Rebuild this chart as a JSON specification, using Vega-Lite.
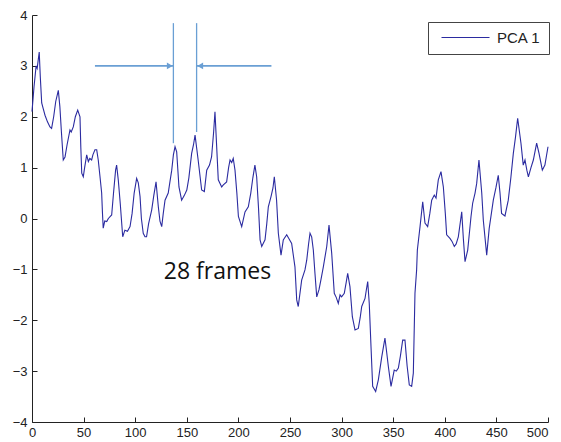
{
  "$schema": "https://vega.github.io/schema/vega-lite/v6.json",
  "width": 516,
  "height": 407,
  "autosize": {"type": "none"},
  "padding": {"left": 32, "top": 15, "right": 13, "bottom": 20},
  "background": "white",
  "config": {
    "view": {"stroke": null},
    "axis": {
      "grid": false,
      "domainColor": "#222",
      "tickColor": "#222",
      "tickSize": -5,
      "labelFont": "Liberation Sans",
      "labelFontSize": 13,
      "labelColor": "#222",
      "title": null
    }
  },
  "layer": [
    {
      "data": {"values": [
        {"frame": 0, "pca": 2.1}, {"frame": 2, "pca": 2.6}, {"frame": 4, "pca": 3.0}, {"frame": 5, "pca": 2.95},
        {"frame": 7, "pca": 3.27}, {"frame": 8, "pca": 2.8}, {"frame": 9.4, "pca": 2.27}, {"frame": 11, "pca": 2.15},
        {"frame": 12.6, "pca": 2.03}, {"frame": 15, "pca": 1.9}, {"frame": 17.4, "pca": 1.8}, {"frame": 19, "pca": 1.77},
        {"frame": 21, "pca": 2.0}, {"frame": 23, "pca": 2.3}, {"frame": 25.5, "pca": 2.52}, {"frame": 27, "pca": 2.2},
        {"frame": 28.5, "pca": 1.7}, {"frame": 30.3, "pca": 1.15}, {"frame": 32, "pca": 1.21}, {"frame": 34, "pca": 1.45},
        {"frame": 36.8, "pca": 1.74}, {"frame": 38, "pca": 1.7}, {"frame": 40, "pca": 1.8}, {"frame": 42, "pca": 2.0},
        {"frame": 44.3, "pca": 2.13}, {"frame": 46.5, "pca": 2.0}, {"frame": 47.3, "pca": 1.4}, {"frame": 48.2, "pca": 0.89},
        {"frame": 49.7, "pca": 0.82}, {"frame": 51, "pca": 1.0}, {"frame": 53, "pca": 1.25}, {"frame": 54.6, "pca": 1.12},
        {"frame": 56, "pca": 1.18}, {"frame": 57.8, "pca": 1.15}, {"frame": 59, "pca": 1.25}, {"frame": 61, "pca": 1.35},
        {"frame": 62.7, "pca": 1.35}, {"frame": 64.2, "pca": 1.15}, {"frame": 66, "pca": 0.8}, {"frame": 67.5, "pca": 0.5},
        {"frame": 68.3, "pca": 0.1}, {"frame": 69, "pca": -0.19}, {"frame": 70.5, "pca": -0.05}, {"frame": 72.4, "pca": -0.06},
        {"frame": 74, "pca": 0.0}, {"frame": 77.2, "pca": 0.07}, {"frame": 79, "pca": 0.5}, {"frame": 81, "pca": 0.95},
        {"frame": 82, "pca": 1.05}, {"frame": 83.6, "pca": 0.76}, {"frame": 85.5, "pca": 0.3}, {"frame": 87.9, "pca": -0.36},
        {"frame": 90, "pca": -0.23}, {"frame": 92.5, "pca": -0.25}, {"frame": 95, "pca": -0.16}, {"frame": 97, "pca": 0.1},
        {"frame": 99, "pca": 0.5}, {"frame": 101.4, "pca": 0.79}, {"frame": 103, "pca": 0.7}, {"frame": 104.7, "pca": 0.43},
        {"frame": 106, "pca": 0.0}, {"frame": 107.8, "pca": -0.29}, {"frame": 109.5, "pca": -0.36}, {"frame": 111, "pca": -0.36},
        {"frame": 113, "pca": -0.1}, {"frame": 116, "pca": 0.17}, {"frame": 118, "pca": 0.45}, {"frame": 120.2, "pca": 0.72},
        {"frame": 122.4, "pca": 0.23}, {"frame": 124, "pca": -0.05}, {"frame": 125.7, "pca": -0.16}, {"frame": 127.2, "pca": 0.1},
        {"frame": 128.9, "pca": 0.36}, {"frame": 132, "pca": 0.5}, {"frame": 133.5, "pca": 0.7}, {"frame": 135.4, "pca": 0.95},
        {"frame": 137, "pca": 1.25}, {"frame": 138.6, "pca": 1.41}, {"frame": 140.2, "pca": 1.31}, {"frame": 142.4, "pca": 0.62},
        {"frame": 145, "pca": 0.36}, {"frame": 147.5, "pca": 0.45}, {"frame": 150, "pca": 0.56}, {"frame": 152, "pca": 0.8},
        {"frame": 154.7, "pca": 1.28}, {"frame": 156.5, "pca": 1.45}, {"frame": 158, "pca": 1.64}, {"frame": 161, "pca": 1.15},
        {"frame": 164.4, "pca": 0.56}, {"frame": 167, "pca": 0.53}, {"frame": 169.3, "pca": 0.95}, {"frame": 172, "pca": 1.05},
        {"frame": 174, "pca": 1.21}, {"frame": 176, "pca": 1.7}, {"frame": 177.3, "pca": 2.1}, {"frame": 178.5, "pca": 1.6},
        {"frame": 180.5, "pca": 0.76}, {"frame": 183.8, "pca": 0.62}, {"frame": 185.4, "pca": 0.66}, {"frame": 188.6, "pca": 0.72},
        {"frame": 190.5, "pca": 1.0}, {"frame": 191.9, "pca": 1.15}, {"frame": 193.5, "pca": 1.1}, {"frame": 195, "pca": 1.18},
        {"frame": 196.7, "pca": 0.95}, {"frame": 198.5, "pca": 0.5}, {"frame": 200, "pca": 0.04}, {"frame": 203.2, "pca": -0.16},
        {"frame": 206.4, "pca": 0.13}, {"frame": 209.6, "pca": 0.23}, {"frame": 212, "pca": 0.5}, {"frame": 214, "pca": 0.8},
        {"frame": 216, "pca": 1.05}, {"frame": 217.7, "pca": 0.82}, {"frame": 219.5, "pca": 0.2}, {"frame": 221, "pca": -0.42},
        {"frame": 222.6, "pca": -0.55}, {"frame": 225.8, "pca": -0.42}, {"frame": 227.5, "pca": -0.1}, {"frame": 229, "pca": 0.23},
        {"frame": 231.6, "pca": 0.43}, {"frame": 233.5, "pca": 0.6}, {"frame": 234.8, "pca": 0.82}, {"frame": 237, "pca": 0.36},
        {"frame": 238.7, "pca": -0.29}, {"frame": 241.3, "pca": -0.72}, {"frame": 243.5, "pca": -0.42}, {"frame": 246.8, "pca": -0.32},
        {"frame": 249, "pca": -0.4}, {"frame": 251.6, "pca": -0.49}, {"frame": 254.8, "pca": -0.95}, {"frame": 256.5, "pca": -1.6},
        {"frame": 258, "pca": -1.73}, {"frame": 261.3, "pca": -1.21}, {"frame": 264.5, "pca": -1.01}, {"frame": 266.2, "pca": -0.82},
        {"frame": 268, "pca": -0.5}, {"frame": 269.4, "pca": -0.29}, {"frame": 271, "pca": -0.36}, {"frame": 272.6, "pca": -0.62},
        {"frame": 274.2, "pca": -1.08}, {"frame": 275.9, "pca": -1.54}, {"frame": 278.1, "pca": -1.4}, {"frame": 280, "pca": -1.2},
        {"frame": 282.3, "pca": -0.95}, {"frame": 285.6, "pca": -0.55}, {"frame": 287.8, "pca": -0.13}, {"frame": 290.4, "pca": -0.68},
        {"frame": 292.9, "pca": -1.47}, {"frame": 294.8, "pca": -1.55}, {"frame": 296.8, "pca": -1.67}, {"frame": 298.5, "pca": -1.5},
        {"frame": 300, "pca": -1.54}, {"frame": 302.6, "pca": -1.47}, {"frame": 304.5, "pca": -1.25}, {"frame": 305.9, "pca": -1.08},
        {"frame": 308.1, "pca": -1.34}, {"frame": 310.4, "pca": -1.93}, {"frame": 313, "pca": -2.19}, {"frame": 316.2, "pca": -2.16},
        {"frame": 318, "pca": -1.95}, {"frame": 319.5, "pca": -1.73}, {"frame": 322.7, "pca": -1.57}, {"frame": 324, "pca": -1.4},
        {"frame": 325.3, "pca": -1.24}, {"frame": 326.8, "pca": -1.67}, {"frame": 328.5, "pca": -2.52}, {"frame": 330.1, "pca": -3.3},
        {"frame": 333, "pca": -3.4}, {"frame": 335.6, "pca": -3.17}, {"frame": 338.9, "pca": -2.72}, {"frame": 342, "pca": -2.35},
        {"frame": 343.5, "pca": -2.6}, {"frame": 345.3, "pca": -2.91}, {"frame": 347.9, "pca": -3.3}, {"frame": 351, "pca": -2.98},
        {"frame": 353, "pca": -3.0}, {"frame": 355, "pca": -2.94}, {"frame": 357, "pca": -2.7}, {"frame": 359.2, "pca": -2.39},
        {"frame": 361.4, "pca": -2.39}, {"frame": 363.5, "pca": -2.9}, {"frame": 365.6, "pca": -3.27}, {"frame": 367.9, "pca": -3.3},
        {"frame": 369.5, "pca": -3.04}, {"frame": 371.1, "pca": -1.47}, {"frame": 372.7, "pca": -1.01}, {"frame": 373.4, "pca": -0.62},
        {"frame": 376, "pca": -0.16}, {"frame": 378.6, "pca": 0.33}, {"frame": 380.8, "pca": -0.09}, {"frame": 383.4, "pca": -0.16},
        {"frame": 385.5, "pca": 0.1}, {"frame": 387.3, "pca": 0.36}, {"frame": 389.8, "pca": 0.46}, {"frame": 391.5, "pca": 0.4},
        {"frame": 393.7, "pca": 0.76}, {"frame": 396.3, "pca": 0.92}, {"frame": 398.6, "pca": 0.62}, {"frame": 400.5, "pca": 0.1},
        {"frame": 401.8, "pca": -0.32}, {"frame": 405, "pca": -0.39}, {"frame": 407, "pca": -0.45}, {"frame": 409.2, "pca": -0.55},
        {"frame": 411, "pca": -0.5}, {"frame": 413.1, "pca": -0.36}, {"frame": 416.4, "pca": 0.13}, {"frame": 418, "pca": -0.4},
        {"frame": 419.6, "pca": -0.85}, {"frame": 422.2, "pca": -0.62}, {"frame": 425.4, "pca": 0.04}, {"frame": 427, "pca": 0.3},
        {"frame": 429.3, "pca": 0.5}, {"frame": 430.9, "pca": 0.69}, {"frame": 433.1, "pca": 1.15}, {"frame": 435.8, "pca": 0.5},
        {"frame": 437.3, "pca": -0.03}, {"frame": 440.6, "pca": -0.72}, {"frame": 443, "pca": -0.2}, {"frame": 447, "pca": 0.36},
        {"frame": 449.5, "pca": 0.6}, {"frame": 451.8, "pca": 0.85}, {"frame": 453.5, "pca": 0.5}, {"frame": 455, "pca": 0.1},
        {"frame": 458.3, "pca": 0.05}, {"frame": 461.5, "pca": 0.36}, {"frame": 464, "pca": 0.8}, {"frame": 466.4, "pca": 1.28},
        {"frame": 468.5, "pca": 1.6}, {"frame": 470.6, "pca": 1.97}, {"frame": 473.8, "pca": 1.48}, {"frame": 476, "pca": 1.05},
        {"frame": 477.7, "pca": 1.15}, {"frame": 479.5, "pca": 0.95}, {"frame": 481, "pca": 0.82}, {"frame": 483.5, "pca": 1.0},
        {"frame": 485.8, "pca": 1.15}, {"frame": 489, "pca": 1.48}, {"frame": 491.3, "pca": 1.28}, {"frame": 494.5, "pca": 0.95},
        {"frame": 497, "pca": 1.05}, {"frame": 500, "pca": 1.41}
      ]},
      "mark": {"type": "line", "strokeWidth": 1.1},
      "encoding": {
        "x": {
          "field": "frame", "type": "quantitative",
          "scale": {"domain": [0, 500], "nice": false},
          "axis": {
            "values": [0, 50, 100, 150, 200, 250, 300, 350, 400, 450, 500],
            "labelPadding": 9,
            "labelAlign": {"condition": {"test": "datum.value == 500", "value": "right"}, "value": "center"}
          }
        },
        "y": {
          "field": "pca", "type": "quantitative",
          "scale": {"domain": [-4, 4], "nice": false},
          "axis": {"values": [-4, -3, -2, -1, 0, 1, 2, 3, 4], "labelPadding": 10}
        },
        "color": {
          "datum": "PCA 1",
          "scale": {"range": ["#2b2ba0"]},
          "legend": {
            "orient": "none",
            "legendX": 396,
            "legendY": 7,
            "title": null,
            "symbolType": "M-4,0H4",
            "symbolSize": 144,
            "symbolOffset": 22,
            "symbolStrokeWidth": 1,
            "labelFont": "Liberation Sans",
            "labelFontSize": 15,
            "labelColor": "#222",
            "strokeColor": "#444",
            "fillColor": "white",
            "padding": 8,
            "labelOffset": 24
          }
        }
      }
    },
    {
      "data": {"values": [
        {"x": 137, "ytop": 3.84, "ybot": 1.48},
        {"x": 159.5, "ytop": 3.84, "ybot": 1.7}
      ]},
      "mark": {"type": "rule", "color": "#6a9fd4", "strokeWidth": 1.3},
      "encoding": {
        "x": {"field": "x", "type": "quantitative"},
        "y": {"field": "ytop", "type": "quantitative"},
        "y2": {"field": "ybot"}
      }
    },
    {
      "data": {"values": [
        {"xs": 61, "xe": 137, "y": 3.0},
        {"xs": 232, "xe": 159.5, "y": 3.0}
      ]},
      "mark": {"type": "rule", "color": "#6a9fd4", "strokeWidth": 1.6},
      "encoding": {
        "x": {"field": "xs", "type": "quantitative"},
        "x2": {"field": "xe"},
        "y": {"field": "y", "type": "quantitative"}
      }
    },
    {
      "data": {"values": [
        {"x": 133.5, "y": 3.0, "dir": "triangle-right"},
        {"x": 163, "y": 3.0, "dir": "triangle-left"}
      ]},
      "mark": {"type": "point", "filled": true, "color": "#6a9fd4", "size": 45, "opacity": 1},
      "encoding": {
        "x": {"field": "x", "type": "quantitative"},
        "y": {"field": "y", "type": "quantitative"},
        "shape": {"field": "dir", "type": "nominal", "scale": null}
      }
    },
    {
      "data": {"values": [{"x": 179.7, "y": -1.19, "label": "28 frames"}]},
      "mark": {"type": "text", "font": "Open Sans", "fontSize": 23, "color": "#111", "align": "center", "baseline": "alphabetic"},
      "encoding": {
        "x": {"field": "x", "type": "quantitative"},
        "y": {"field": "y", "type": "quantitative"},
        "text": {"field": "label"}
      }
    }
  ]
}
